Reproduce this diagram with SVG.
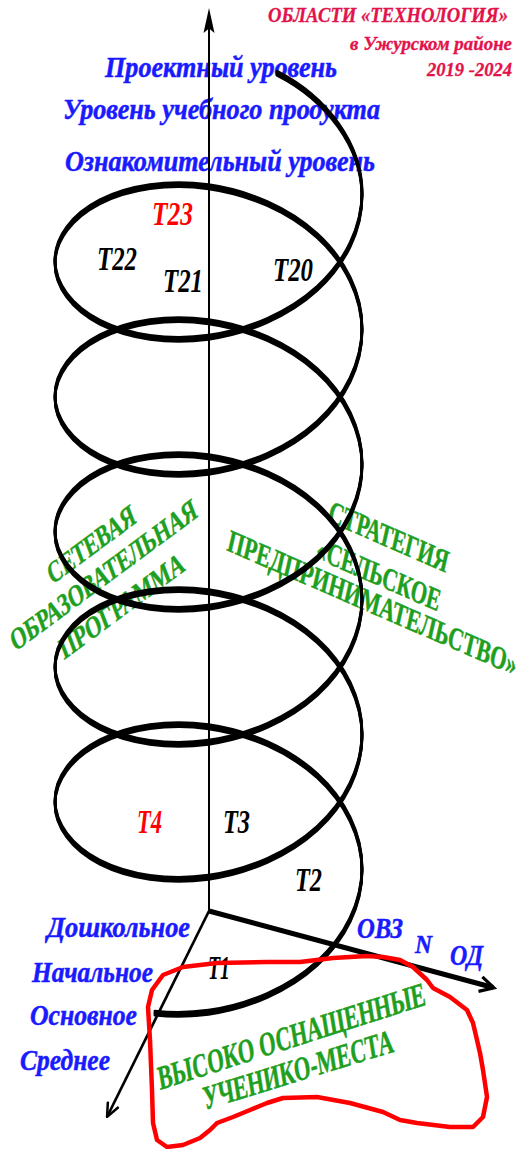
<svg xmlns="http://www.w3.org/2000/svg" width="521" height="1149" viewBox="0 0 521 1149">
<style>
.t{font-family:"Liberation Serif","DejaVu Serif",serif;}
.bi{font-weight:bold;font-style:italic;}
.blue{fill:#1a1aff;stroke:#1a1aff;stroke-width:0.5;font-size:29px;}
.red{fill:#e2134b;stroke:#e2134b;stroke-width:0.3;}
.lab{font-size:34px;fill:#000;}
.labr{fill:#ff0000;}
.green{fill:#1f9f1f;stroke:#1f9f1f;stroke-width:0.5;font-weight:bold;}
.hx{fill:none;stroke:#000;stroke-width:2.8;stroke-linecap:round;stroke-linejoin:round;}
</style>
<defs>
<path id="helixPath" d="M154.96,1013.05 C172.04,1015.01 190.28,1014.8 208.5,1012.25 C248.69,1006.63 288.62,989.25 317.04,963.45 C345.46,937.65 362,903.66 362,869.5 c0,-34.16 -16.54,-68.15 -44.96,-93.95 c-28.42,-25.8 -68.35,-43.17 -108.54,-48.8 c-40.19,-5.62 -80.12,0.5 -108.54,15.05 c-28.42,14.55 -44.96,37.29 -44.96,60.2 c0,22.91 16.54,45.65 44.96,60.2 c28.42,14.55 68.35,20.68 108.54,15.05 c40.19,-5.62 80.12,-23 108.54,-48.8 c28.42,-25.8 44.96,-59.79 44.96,-93.95 c0,-34.16 -16.54,-68.15 -44.96,-93.95 c-28.42,-25.8 -68.35,-43.17 -108.54,-48.8 c-40.19,-5.62 -80.12,0.5 -108.54,15.05 c-28.42,14.55 -44.96,37.29 -44.96,60.2 c0,22.91 16.54,45.65 44.96,60.2 c28.42,14.55 68.35,20.68 108.54,15.05 c40.19,-5.62 80.12,-23 108.54,-48.8 c28.42,-25.8 44.96,-59.79 44.96,-93.95 c0,-34.16 -16.54,-68.15 -44.96,-93.95 c-28.42,-25.8 -68.35,-43.17 -108.54,-48.8 c-40.19,-5.62 -80.12,0.5 -108.54,15.05 c-28.42,14.55 -44.96,37.29 -44.96,60.2 c0,22.91 16.54,45.65 44.96,60.2 c28.42,14.55 68.35,20.68 108.54,15.05 c40.19,-5.62 80.12,-23 108.54,-48.8 c28.42,-25.8 44.96,-59.79 44.96,-93.95 c0,-34.16 -16.54,-68.15 -44.96,-93.95 c-28.42,-25.8 -68.35,-43.17 -108.54,-48.8 c-40.19,-5.62 -80.12,0.5 -108.54,15.05 c-28.42,14.55 -44.96,37.29 -44.96,60.2 c0,22.91 16.54,45.65 44.96,60.2 c28.42,14.55 68.35,20.68 108.54,15.05 c40.19,-5.62 80.12,-23 108.54,-48.8 c28.42,-25.8 44.96,-59.79 44.96,-93.95 c0,-34.16 -16.54,-68.15 -44.96,-93.95 c-28.42,-25.8 -68.35,-43.17 -108.54,-48.8 c-40.19,-5.62 -80.12,0.5 -108.54,15.05 c-28.42,14.55 -44.96,37.29 -44.96,60.2 c0,22.91 16.54,45.65 44.96,60.2 c28.42,14.55 68.35,20.68 108.54,15.05 c40.19,-5.62 80.12,-23 108.54,-48.8 c28.42,-25.8 44.96,-59.79 44.96,-93.95 c0,-48.19 -34.24,-95.43 -84.96,-121.34"/>
<marker id="arrThin" markerUnits="userSpaceOnUse" viewBox="0 0 16 14" refX="14" refY="7" markerWidth="16" markerHeight="14" orient="auto">
<path d="M1,1 L15,7 L1,13" fill="none" stroke="#000" stroke-width="2.5"/>
</marker>
<marker id="arrThick" markerUnits="userSpaceOnUse" viewBox="0 0 18 18" refX="14" refY="9" markerWidth="18" markerHeight="18" orient="auto">
<path d="M1,1.5 L15,9 L1,16.5" fill="none" stroke="#000" stroke-width="3.2"/>
</marker>
</defs>
<rect width="521" height="1149" fill="#fff"/>

<g id="title" class="t bi red">
<text x="268" y="22" font-size="20" textLength="240" lengthAdjust="spacingAndGlyphs">ОБЛАСТИ «ТЕХНОЛОГИЯ»</text>
<text x="350" y="50" font-size="18" textLength="162" lengthAdjust="spacingAndGlyphs">в Ужурском районе</text>
<text x="427" y="76" font-size="18" textLength="85" lengthAdjust="spacingAndGlyphs">2019 -2024</text>
</g>

<g id="levels" class="t bi blue">
<text x="105" y="77" textLength="232" lengthAdjust="spacingAndGlyphs">Проектный уровень</text>
<text x="63" y="119" textLength="317" lengthAdjust="spacingAndGlyphs">Уровень учебного продукта</text>
<text x="65" y="171" textLength="310" lengthAdjust="spacingAndGlyphs">Ознакомительный уровень</text>
</g>

<g id="stages" class="t bi blue">
<text x="47" y="937" textLength="143" lengthAdjust="spacingAndGlyphs">Дошкольное</text>
<text x="32" y="982" textLength="121" lengthAdjust="spacingAndGlyphs">Начальное</text>
<text x="30" y="1025" textLength="107" lengthAdjust="spacingAndGlyphs">Основное</text>
<text x="20" y="1070" textLength="90" lengthAdjust="spacingAndGlyphs">Среднее</text>
</g>

<g id="categories" class="t bi blue">
<text x="357" y="938" font-size="30" textLength="46" lengthAdjust="spacingAndGlyphs">ОВЗ</text>
<text x="415" y="953" font-size="25" textLength="17" lengthAdjust="spacingAndGlyphs">N</text>
<text x="450" y="965" font-size="30" textLength="33" lengthAdjust="spacingAndGlyphs">ОД</text>
</g>

<g id="topics" class="t bi lab">
<text class="labr" x="152" y="225" textLength="41" lengthAdjust="spacingAndGlyphs">T23</text>
<text x="97" y="270" textLength="40" lengthAdjust="spacingAndGlyphs">T22</text>
<text x="163" y="292" textLength="40" lengthAdjust="spacingAndGlyphs">T21</text>
<text x="273" y="281" textLength="40" lengthAdjust="spacingAndGlyphs">T20</text>
<text class="labr" x="137" y="833" textLength="25" lengthAdjust="spacingAndGlyphs">T4</text>
<text x="223" y="833" textLength="27" lengthAdjust="spacingAndGlyphs">T3</text>
<text x="295" y="891" textLength="27" lengthAdjust="spacingAndGlyphs">T2</text>
<text x="208" y="979" textLength="22" lengthAdjust="spacingAndGlyphs">T1</text>
</g>

<g id="network-program" class="t green" font-size="31">
<text transform="translate(52,585) scale(0.72,1) rotate(-28)" textLength="134" lengthAdjust="spacingAndGlyphs">СЕТЕВАЯ</text>
<text transform="translate(15,652) scale(0.72,1) rotate(-28)" textLength="289" lengthAdjust="spacingAndGlyphs">ОБРАЗОВАТЕЛЬНАЯ</text>
<text transform="translate(64,660) scale(0.72,1) rotate(-28)" textLength="192" lengthAdjust="spacingAndGlyphs">ПРОГРАММА</text>
</g>

<g id="strategy" class="t green" font-size="32">
<text transform="translate(327,521) scale(0.72,1) rotate(17.4)" textLength="173" lengthAdjust="spacingAndGlyphs">СТРАТЕГИЯ</text>
<text transform="translate(315,558) scale(0.72,1) rotate(17.4)" textLength="179" lengthAdjust="spacingAndGlyphs">«СЕЛЬСКОЕ</text>
<text transform="translate(226,550) scale(0.72,1) rotate(17.4)" textLength="420" lengthAdjust="spacingAndGlyphs">ПРЕДПРИНИМАТЕЛЬСТВО»</text>
</g>

<g id="workplaces" class="t green" font-size="34">
<text transform="translate(160,1090) scale(0.72,1) rotate(-13)" textLength="380" lengthAdjust="spacingAndGlyphs">ВЫСОКО ОСНАЩЕННЫЕ</text>
<text transform="translate(205,1110) scale(0.72,1) rotate(-12.5)" textLength="270" lengthAdjust="spacingAndGlyphs">УЧЕНИКО-МЕСТА</text>
</g>

<g id="helix">
<use href="#helixPath" class="hx" transform="translate(0,-2)"/>
<use href="#helixPath" class="hx" transform="translate(0,-0.7)"/>
<use href="#helixPath" class="hx" transform="translate(0,0.7)"/>
<use href="#helixPath" class="hx" transform="translate(0,2)"/>
</g>

<g id="connectors" stroke="#000" fill="none">
<line x1="209" y1="911" x2="209" y2="28" stroke-width="2"/>
<path d="M209,8 L214.5,33 L209,28.5 L203.5,33 Z" fill="#000" stroke="none"/>
<line x1="209" y1="911" x2="107.5" y2="1116" stroke-width="2.7" marker-end="url(#arrThin)"/>
<line x1="209" y1="911" x2="493" y2="987.5" stroke-width="5" marker-end="url(#arrThick)"/>
</g>

<g id="highlight">
<path d="M163,975 L183,967 L217,963 L267,962 L300,962 L333,958 L367,956 L383,957 L400,960 L413,967 L427,980 L433,988 L450,997 L467,1010 L473,1023 L477,1040 L480,1053 L483,1070 L487,1097 L483,1117 L473,1127 L450,1127 L417,1123 L400,1120 L383,1112 L350,1103 L317,1097 L283,1098 L267,1103 L250,1110 L233,1117 L217,1123 L210,1130 L200,1138 L183,1145 L167,1147 L157,1140 L153,1123 L152,1090 L150,1040 L148,1007 L152,990 Z" fill="none" stroke="#ff0000" stroke-width="4.5" stroke-linejoin="round"/>
</g>
</svg>
